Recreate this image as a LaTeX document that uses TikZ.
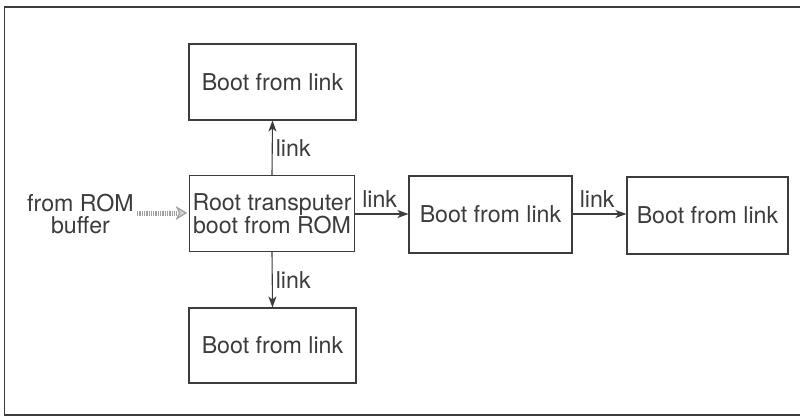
\documentclass[tikz,border=0pt]{standalone}
\usepackage{fontspec}
\setmainfont{TeX Gyre Heros}
\usetikzlibrary{arrows.meta}
\definecolor{ink}{HTML}{3C3C3C}
\tikzset{
  txt/.style={text=ink, font=\fontsize{23.2}{22}\selectfont},
  box/.style={txt, draw=ink, line width=1.1pt, inner sep=0pt, align=center},
  lbl/.style={txt, inner sep=0pt},
  linkarrow/.style={draw=ink, line width=1.1pt,
    -{Stealth[length=11pt, width=8pt, inset=3pt]}},
  feedshaft/.style={draw=gray!75, line width=5pt, dash pattern=on 1.3pt off 1pt},
  feedhead/.style={draw=gray!75, fill=gray!35, line width=1.2pt, line join=miter},
}
\begin{document}
\begin{tikzpicture}[x=1pt, y=-1pt]
  \useasboundingbox (0,0) rectangle (800,420);
  % frame
  \draw[ink, line width=1.6pt] (800,7) -- (4.5,7) -- (4.5,415) -- (800,415);

  % boxes
  \node[box, minimum width=167pt, minimum height=76pt] (top)  at (272.5,82)   {Boot from link};
  \node[box, minimum width=165pt, minimum height=76pt] (root) at (272,213.5)  {Root transputer\\boot from ROM};
  \node[box, minimum width=167pt, minimum height=75pt] (bot)  at (272.5,345.5){Boot from link};
  \node[box, minimum width=163pt, minimum height=77pt] (mid)  at (490.5,214.5){Boot from link};
  \node[box, minimum width=161pt, minimum height=77pt] (far)  at (707.5,215.5){Boot from link};

  % input from ROM buffer
  \node[lbl, align=center] (src) at (80.5,214) {from ROM\\buffer};
  \coordinate (feedstart) at (137,213);
  \coordinate (feedtip) at (186,213);
  \draw[feedshaft] (feedstart) -- ([xshift=-8pt]feedtip);
  \filldraw[feedhead] (feedtip) -- ++(-9,-5.5) -- ++(2.5,5.5) -- ++(-2.5,5.5) -- cycle;

  % links
  \draw[linkarrow] (root.north) -- (top.south)
    node[lbl, midway, right=3pt] (l1) {link};
  \draw[linkarrow] (root.south) -- (bot.north)
    node[lbl, midway, right=3pt] (l2) {link};
  \draw[linkarrow] (root.east |- 0,214) -- (mid.west |- 0,214);
  \node[lbl, anchor=base west] (l3) at ([xshift=7pt]root.east |- 0,207) {link};
  \draw[linkarrow] (mid.east |- 0,214) -- (far.west |- 0,214);
  \node[lbl, anchor=base west] (l4) at ([xshift=7pt]mid.east |- 0,207) {link};
\end{tikzpicture}
\end{document}
